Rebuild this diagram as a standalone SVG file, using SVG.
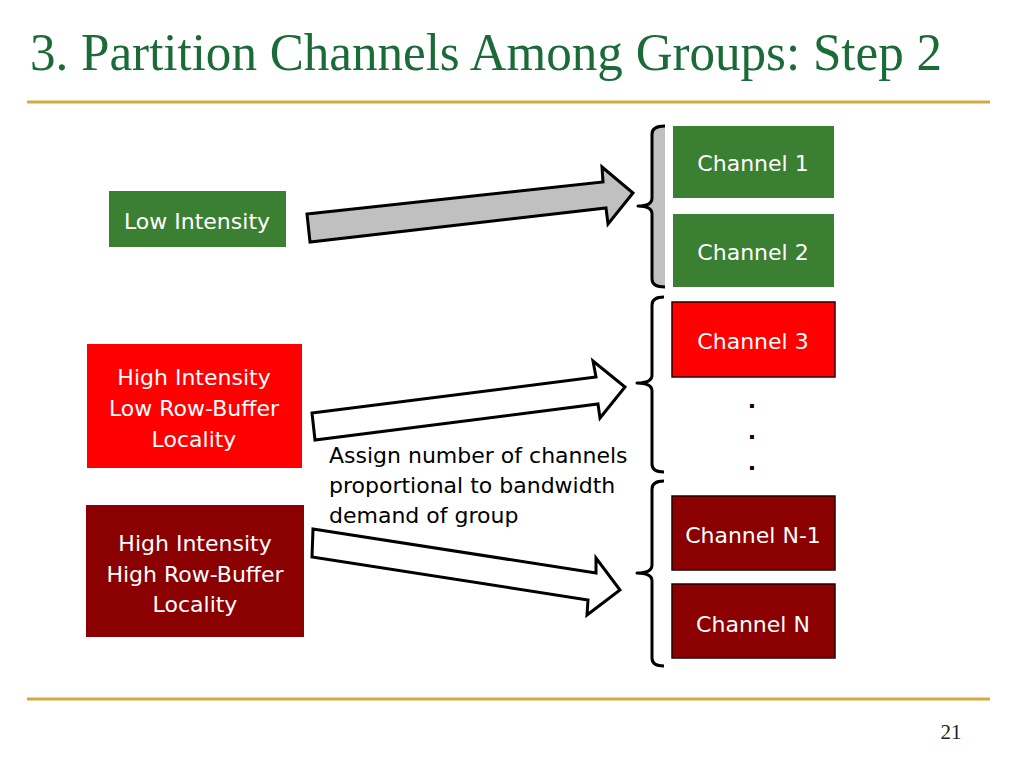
<svg xmlns="http://www.w3.org/2000/svg" width="1024" height="768" viewBox="0 0 1024 768">
<style>
.lbl{font-family:"DejaVu Sans","Liberation Sans",sans-serif;font-size:22px;fill:#ffffff;text-anchor:middle}
.note{font-family:"DejaVu Sans","Liberation Sans",sans-serif;font-size:22px;fill:#000000}
.arrow{stroke:#000;stroke-width:3;stroke-linejoin:miter}
.brace{fill:none;stroke:#000;stroke-width:3;stroke-linejoin:round}
.rule{stroke:#d4aa3c;stroke-width:3}
.green{fill:#3b7f33}
.red{fill:#ff0000}
.dred{fill:#8b0000}
.bord{stroke:#2a0000;stroke-width:1.5}
</style>
<rect width="1024" height="768" fill="#ffffff"/>
<g id="title">
<text x="30" y="70" font-family="'Liberation Serif',serif" font-size="52" fill="#1b6b38" textLength="912" lengthAdjust="spacingAndGlyphs">3. Partition Channels Among Groups: Step 2</text>
<line class="rule" x1="27" y1="102" x2="990" y2="102"/>
<line class="rule" x1="27" y1="699" x2="990" y2="699"/>
<text x="951" y="739" font-family="'Liberation Serif',serif" font-size="21" fill="#222" text-anchor="middle">21</text>
</g>
<g id="low-intensity">
<rect class="green" x="109" y="191" width="177" height="56"/>
<text class="lbl" x="197" y="229">Low Intensity</text>
</g>
<g id="high-low">
<rect class="red" x="87" y="344" width="215" height="124"/>
<text class="lbl" x="194" y="385">High Intensity</text>
<text class="lbl" x="194" y="416">Low Row-Buffer</text>
<text class="lbl" x="194" y="447">Locality</text>
</g>
<g id="high-high">
<rect class="dred" x="86" y="505" width="218" height="132"/>
<text class="lbl" x="195" y="551">High Intensity</text>
<text class="lbl" x="195" y="582">High Row-Buffer</text>
<text class="lbl" x="195" y="612">Locality</text>
</g>
<g id="channel-1">
<rect class="green" x="673" y="126" width="161" height="72"/>
<text class="lbl" x="753" y="171">Channel 1</text>
</g>
<g id="channel-2">
<rect class="green" x="673" y="214" width="161" height="73"/>
<text class="lbl" x="753" y="260">Channel 2</text>
</g>
<g id="channel-3">
<rect class="red bord" x="672" y="302" width="163" height="75"/>
<text class="lbl" x="753" y="349">Channel 3</text>
</g>
<g id="dots" font-weight="bold">
<text class="note" x="752" y="408" text-anchor="middle">.</text>
<text class="note" x="752" y="439" text-anchor="middle">.</text>
<text class="note" x="752" y="470" text-anchor="middle">.</text>
</g>
<g id="channel-n-1">
<rect class="dred bord" x="672" y="496" width="163" height="74"/>
<text class="lbl" x="753" y="543">Channel N-1</text>
</g>
<g id="channel-n">
<rect class="dred bord" x="672" y="584" width="163" height="74"/>
<text class="lbl" x="753" y="632">Channel N</text>
</g>
<g id="note">
<text class="note" x="329" y="463">Assign number of channels</text>
<text class="note" x="329" y="493">proportional to bandwidth</text>
<text class="note" x="329" y="523">demand of group</text>
</g>
<g id="connectors">
<polygon class="arrow" fill="#c0c0c0" points="307,214 603,182 602,167 633,193 608,224 606,208 310,242"/>
<polygon class="arrow" fill="#ffffff" points="312,413 596,377 593,361 625,387 600,418 598,404 315,440"/>
<polygon class="arrow" fill="#ffffff" points="313,529 596,573 596,558 620,590 587,615 588,600 312,557"/>
<path fill="#c0c0c0" stroke="none" d="M665,126 Q652,126 652,134 L652,198 Q652,206 638,206 Q652,206 652,214 L652,279 Q652,287 665,287 Z"/>
<path class="brace" d="M665,126 Q652,126 652,134 L652,198 Q652,206 638,206 Q652,206 652,214 L652,279 Q652,287 665,287"/>
<path class="brace" d="M664,297 Q652,297 652,305 L652,375 Q652,383 637,383 Q652,383 652,391 L652,464 Q652,472 664,472"/>
<path class="brace" d="M664,481 Q652,481 652,489 L652,565 Q652,573 637,573 Q652,573 652,581 L652,658 Q652,666 664,666"/>
</g>
</svg>
